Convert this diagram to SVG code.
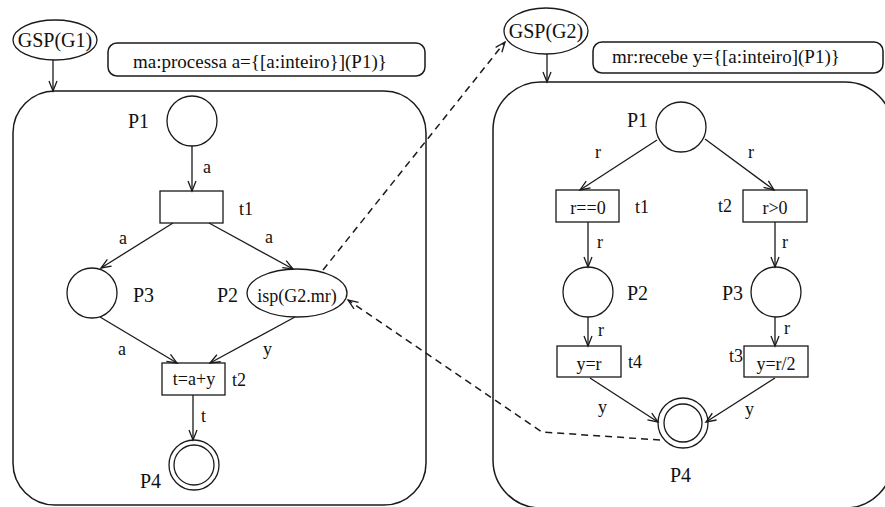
<svg xmlns="http://www.w3.org/2000/svg" width="885" height="507" viewBox="0 0 885 507">
  <style>
    .ln { fill: none; stroke: #1a1a1a; stroke-width: 1.3; }
    .box { fill: none; stroke: #1a1a1a; stroke-width: 1.5; }
    .dash { fill: none; stroke: #1a1a1a; stroke-width: 1.5; stroke-dasharray: 7 5; }
    text { font-family: "Liberation Serif", "Times New Roman", serif; fill: #111; }
    .lbl { font-size: 20px; }
    .arc { font-size: 18px; }
    .in { font-size: 18px; text-anchor: middle; }
    .cap { font-size: 19px; }
  </style>
  <defs>
    <marker id="arr" markerUnits="userSpaceOnUse" markerWidth="14" markerHeight="12" refX="0" refY="0" viewBox="-11 -6 12 12" orient="auto">
      <path d="M-10,-4 L0,0 L-10,4" fill="none" stroke="#1a1a1a" stroke-width="1.3"/>
    </marker>
  </defs>
  <rect width="885" height="507" fill="#fff"/>

  <!-- left net: process G1 -->
  <g id="gsp-g1">
    <ellipse class="ln" cx="55" cy="40" rx="42" ry="20"/>
    <text class="lbl" x="55" y="47" text-anchor="middle">GSP(G1)</text>
  </g>
  <g id="caption-ma">
    <rect class="box" x="108" y="43" width="317" height="33" rx="9"/>
    <text class="cap" x="133" y="68">ma:processa a={[a:inteiro}](P1)}</text>
  </g>
  <g id="frame-g1">
    <rect class="box" x="13" y="91" width="413" height="414" rx="42"/>
  </g>
  <g id="g1-p1">
    <circle class="ln" cx="192" cy="121" r="25"/>
    <text class="lbl" x="128" y="128">P1</text>
  </g>
  <g id="g1-t1">
    <rect class="ln" x="160" y="191" width="63" height="32"/>
    <text class="arc" x="239" y="215">t1</text>
  </g>
  <g id="g1-p3">
    <circle class="ln" cx="92" cy="293" r="25"/>
    <text class="lbl" x="133" y="302">P3</text>
  </g>
  <g id="g1-p2">
    <ellipse class="ln" cx="297" cy="293" rx="50" ry="24"/>
    <text class="in" x="297" y="302">isp(G2.mr)</text>
    <text class="lbl" x="217" y="302">P2</text>
  </g>
  <g id="g1-t2">
    <rect class="ln" x="162" y="363" width="63" height="32"/>
    <text class="in" x="194" y="385">t=a+y</text>
    <text class="arc" x="232" y="386">t2</text>
  </g>
  <g id="g1-p4">
    <circle class="ln" cx="194" cy="465" r="25"/>
    <circle class="ln" cx="194" cy="465" r="20"/>
    <text class="lbl" x="140" y="488">P4</text>
  </g>

  <!-- right net: process G2 -->
  <g id="gsp-g2">
    <ellipse class="ln" cx="546" cy="31" rx="42" ry="23"/>
    <text class="lbl" x="546" y="38" text-anchor="middle">GSP(G2)</text>
  </g>
  <g id="caption-mr">
    <rect class="box" x="593" y="42" width="290" height="31" rx="9"/>
    <text class="cap" x="612" y="63">mr:recebe y={[a:inteiro](P1)}</text>
  </g>
  <g id="frame-g2">
    <rect class="box" x="493" y="82" width="400" height="426" rx="48"/>
  </g>
  <g id="g2-p1">
    <circle class="ln" cx="681" cy="127" r="25"/>
    <text class="lbl" x="627" y="127">P1</text>
  </g>
  <g id="g2-t1">
    <rect class="ln" x="556" y="190" width="63" height="32"/>
    <text class="in" x="588" y="214">r==0</text>
    <text class="arc" x="635" y="213">t1</text>
  </g>
  <g id="g2-t2">
    <rect class="ln" x="743" y="190" width="64" height="32"/>
    <text class="in" x="775" y="214">r&gt;0</text>
    <text class="arc" x="718" y="212">t2</text>
  </g>
  <g id="g2-p2">
    <circle class="ln" cx="588" cy="292" r="25"/>
    <text class="lbl" x="627" y="300">P2</text>
  </g>
  <g id="g2-p3">
    <circle class="ln" cx="776" cy="292" r="25"/>
    <text class="lbl" x="722" y="300">P3</text>
  </g>
  <g id="g2-t4">
    <rect class="ln" x="557" y="346" width="64" height="31"/>
    <text class="in" x="589" y="370">y=r</text>
    <text class="arc" x="628" y="368">t4</text>
  </g>
  <g id="g2-t3">
    <rect class="ln" x="744" y="346" width="64" height="31"/>
    <text class="in" x="776" y="370">y=r/2</text>
    <text class="arc" x="729" y="362">t3</text>
  </g>
  <g id="g2-p4">
    <circle class="ln" cx="683" cy="423" r="25"/>
    <circle class="ln" cx="683" cy="423" r="19"/>
    <text class="lbl" x="670" y="482">P4</text>
  </g>

  <!-- arcs and links -->
  <g id="connectors">
    <line class="ln" x1="53" y1="60" x2="53" y2="91" marker-end="url(#arr)"/>
    <line class="ln" x1="192" y1="146" x2="192" y2="191" marker-end="url(#arr)"/>
    <line class="ln" x1="173" y1="223" x2="101" y2="268" marker-end="url(#arr)"/>
    <line class="ln" x1="209" y1="223" x2="293" y2="269" marker-end="url(#arr)"/>
    <line class="ln" x1="100" y1="317" x2="177" y2="363" marker-end="url(#arr)"/>
    <line class="ln" x1="295" y1="317" x2="210" y2="363" marker-end="url(#arr)"/>
    <line class="ln" x1="193" y1="395" x2="193" y2="440" marker-end="url(#arr)"/>

    <line class="ln" x1="547" y1="54" x2="547" y2="82" marker-end="url(#arr)"/>
    <line class="ln" x1="657" y1="140" x2="580" y2="190" marker-end="url(#arr)"/>
    <line class="ln" x1="705" y1="139" x2="774" y2="190" marker-end="url(#arr)"/>
    <line class="ln" x1="588" y1="222" x2="588" y2="267" marker-end="url(#arr)"/>
    <line class="ln" x1="775" y1="222" x2="775" y2="267" marker-end="url(#arr)"/>
    <line class="ln" x1="588" y1="317" x2="588" y2="346" marker-end="url(#arr)"/>
    <line class="ln" x1="775" y1="317" x2="775" y2="346" marker-end="url(#arr)"/>
    <line class="ln" x1="590" y1="378" x2="658" y2="422" marker-end="url(#arr)"/>
    <line class="ln" x1="775" y1="378" x2="706" y2="422" marker-end="url(#arr)"/>

    <line class="dash" x1="323" y1="270" x2="505" y2="42" marker-end="url(#arr)"/>
    <polyline class="dash" points="660,440 542,432 348,300" marker-end="url(#arr)"/>

    <!-- arc inscriptions -->
    <text class="arc" x="203" y="173">a</text>
    <text class="arc" x="119" y="244">a</text>
    <text class="arc" x="265" y="243">a</text>
    <text class="arc" x="118" y="355">a</text>
    <text class="arc" x="263" y="355">y</text>
    <text class="arc" x="201" y="422">t</text>

    <text class="arc" x="595" y="158">r</text>
    <text class="arc" x="748" y="158">r</text>
    <text class="arc" x="597" y="248">r</text>
    <text class="arc" x="782" y="248">r</text>
    <text class="arc" x="598" y="336">r</text>
    <text class="arc" x="784" y="334">r</text>
    <text class="arc" x="598" y="413">y</text>
    <text class="arc" x="745" y="415">y</text>
  </g>
</svg>
